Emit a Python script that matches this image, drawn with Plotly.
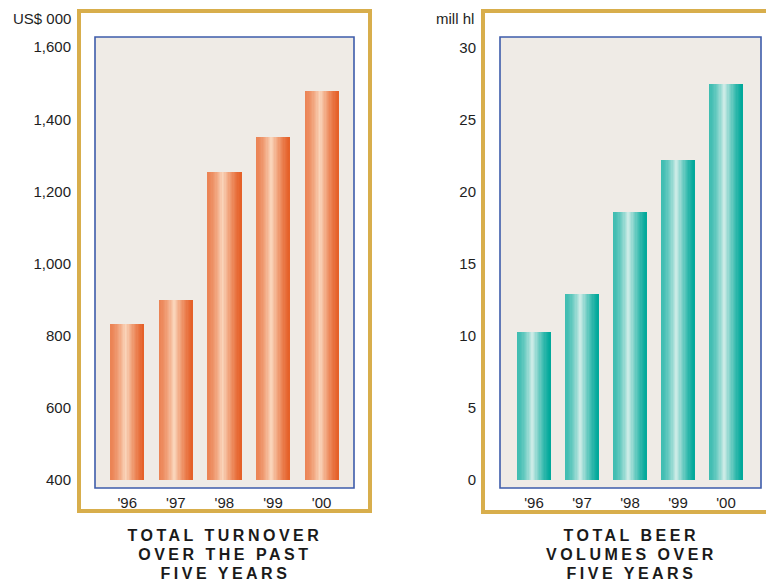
import plotly.graph_objects as go

# ---------------- data ----------------
years = ["'96", "'97", "'98", "'99", "'00"]
turnover = [833, 899, 1255, 1352, 1477]          # US$ 000
volumes = [10.3, 12.9, 18.6, 22.2, 27.5]         # mill hl
turnover_ticks = [400, 600, 800, 1000, 1200, 1400, 1600]
volume_ticks = [0, 5, 10, 15, 20, 25, 30]
left_title = ["TOTAL TURNOVER", "OVER THE PAST", "FIVE YEARS"]
right_title = ["TOTAL BEER", "VOLUMES OVER", "FIVE YEARS"]

W = 766
S = 581 / 572.0           # vertical compensation for the capture
H = round(581 * S)
FONT = "Liberation Sans"


def px(x):
    return x / W


def py(y):
    return 1 - (y * S) / H


def mix(c1, c2, a):
    return "rgb(%d,%d,%d)" % tuple(round(c1[i] + (c2[i] - c1[i]) * a) for i in range(3))


def light_amount(t, peak=0.45, left=0.3):
    if t <= peak:
        s = t / peak
        return left + (1 - left) * s ** 1.6
    s = (t - peak) / (1 - peak)
    return (1 - s) ** 1.4


fig = go.Figure()

N = 26


def add_gradient_bars(values, xaxis, yaxis, width, dark, light):
    for i in range(N):
        t = (i + 0.5) / N
        col = mix(dark, light, light_amount(t))
        off = -width / 2 + i * width / N
        fig.add_trace(go.Bar(
            x=years, y=values, xaxis=xaxis, yaxis=yaxis,
            width=width - i * width / N, offset=off,
            marker=dict(color=col, line=dict(width=0)),
            showlegend=False, hoverinfo="skip",
        ))


add_gradient_bars(turnover, "x", "y", 0.70, (229, 96, 40), (250, 214, 188))
add_gradient_bars(volumes, "x2", "y2", 0.708, (0, 168, 154), (206, 236, 231))

tickfont = dict(family=FONT, size=15, color="#1e1e1e")

fig.update_layout(
    width=W, height=H,
    margin=dict(l=0, r=0, t=0, b=0),
    paper_bgcolor="white",
    plot_bgcolor="rgba(0,0,0,0)",
    barmode="overlay",
    bargap=0,
    xaxis=dict(domain=[px(95), px(354)], range=[-0.663, 4.667],
               showgrid=False, zeroline=False, showline=False,
               ticks="outside", ticklen=9, tickcolor="rgba(0,0,0,0)",
               tickfont=tickfont, anchor="y", fixedrange=True),
    yaxis=dict(domain=[py(479), py(37)], range=[400, 1628],
               tickvals=turnover_ticks, tickformat=",",
               showgrid=False, zeroline=False, showline=False,
               ticks="outside", ticklen=20, tickcolor="rgba(0,0,0,0)",
               tickfont=tickfont, anchor="x", fixedrange=True),
    xaxis2=dict(domain=[px(500), px(761)], range=[-0.708, 4.729],
                showgrid=False, zeroline=False, showline=False,
                ticks="outside", ticklen=9, tickcolor="rgba(0,0,0,0)",
                tickfont=tickfont, anchor="y2", fixedrange=True),
    yaxis2=dict(domain=[py(479), py(37)], range=[0, 30.76],
                tickvals=volume_ticks,
                showgrid=False, zeroline=False, showline=False,
                ticks="outside", ticklen=20, tickcolor="rgba(0,0,0,0)",
                tickfont=tickfont, anchor="x2", fixedrange=True),
)

shapes = []
beige = "#EFEBE6"
blue = "#3E5CAB"
gold = "#D8AE4C"
for (x0, x1) in [(95, 354), (500, 761)]:
    shapes.append(dict(type="rect", xref="paper", yref="paper", layer="below",
                       x0=px(x0), x1=px(x1), y0=py(487), y1=py(37),
                       fillcolor=beige, line=dict(width=0)))
    shapes.append(dict(type="rect", xref="paper", yref="paper", layer="above",
                       x0=px(x0), x1=px(x1), y0=py(487), y1=py(37),
                       fillcolor="rgba(0,0,0,0)", line=dict(color=blue, width=1.6)))
shapes.append(dict(type="rect", xref="paper", yref="paper", layer="above",
                   x0=px(79), x1=px(370), y0=py(510), y1=py(11),
                   fillcolor="rgba(0,0,0,0)", line=dict(color=gold, width=4)))
shapes.append(dict(type="rect", xref="paper", yref="paper", layer="above",
                   x0=px(483), x1=px(820), y0=py(511), y1=py(11),
                   fillcolor="rgba(0,0,0,0)", line=dict(color=gold, width=4)))
fig.update_layout(shapes=shapes)

ann = []
ann.append(dict(text="US$ 000", x=px(73), y=py(18), xref="paper", yref="paper",
                xanchor="right", yanchor="middle", showarrow=False,
                font=dict(family=FONT, size=15, color="#1e1e1e")))
ann.append(dict(text="mill hl", x=px(434), y=py(18), xref="paper", yref="paper",
                xanchor="left", yanchor="middle", showarrow=False,
                font=dict(family=FONT, size=15, color="#1e1e1e")))
line_y = [534, 553, 572]
for cx, lines in [(225, left_title), (631, right_title)]:
    for ly, txt in zip(line_y, lines):
        ann.append(dict(text="<b>%s</b>" % txt, x=px(cx), y=py(ly),
                        xref="paper", yref="paper", xanchor="center", yanchor="middle",
                        showarrow=False,
                        font=dict(family=FONT, size=16, color="#1a1a1a")))
fig.update_layout(annotations=ann)

title_words = left_title + right_title
post = """
(function(){
  var de = document.documentElement, b = document.body;
  [de, b].forEach(function(e){
    e.style.margin = '0'; e.style.padding = '0'; e.style.overflow = 'hidden';
  });
  var gd = document.getElementById('{plot_id}');
  gd.style.display = 'block';
  var words = %s;
  function spaceTitles(){
    gd.querySelectorAll('.annotation-text').forEach(function(t){
      if (words.indexOf(t.textContent.trim()) >= 0) { t.style.letterSpacing = '3.5px'; }
    });
  }
  spaceTitles();
  gd.on('plotly_afterplot', spaceTitles);
})();
""" % (repr(title_words).replace("'", '"'))

fig.write_html("out.html", post_script=post, config={"displayModeBar": False})
